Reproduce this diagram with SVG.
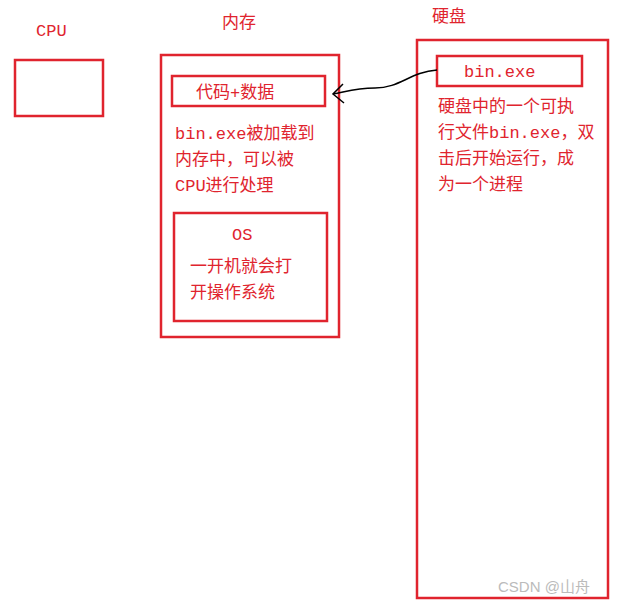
<svg xmlns="http://www.w3.org/2000/svg" width="621" height="606" viewBox="0 0 621 606">
<style>
.b{fill:none;stroke:#e0242e;stroke-width:2.5}
.t{fill:#e0242e;font-family:"Liberation Mono","Noto Sans CJK SC",monospace;font-size:17px}
</style>
<rect width="621" height="606" fill="#fff"/>
<g id="cpu"><rect class="b" x="15" y="60" width="88" height="56"/><text class="t" x="36" y="36">CPU</text></g>
<g id="mem"><rect class="b" x="161" y="55" width="178" height="282"/><text class="t" x="222" y="28">内存</text>
<text class="t" x="175" y="139">bin.exe被加载到</text><text class="t" x="175" y="165">内存中，可以被</text><text class="t" x="175" y="191">CPU进行处理</text></g>
<g id="code"><rect class="b" x="172" y="76" width="153" height="30"/><text class="t" x="196" y="98">代码+数据</text></g>
<g id="os"><rect class="b" x="174" y="213" width="153" height="108"/><text class="t" x="232" y="240">OS</text><text class="t" x="190" y="272">一开机就会打</text><text class="t" x="190" y="298">开操作系统</text></g>
<g id="disk"><rect class="b" x="417" y="40" width="191" height="558"/><text class="t" x="432" y="22">硬盘</text>
<text class="t" x="438" y="112">硬盘中的一个可执</text><text class="t" x="438" y="138">行文件bin.exe，双</text><text class="t" x="438" y="164">击后开始运行，成</text><text class="t" x="438" y="190">为一个进程</text></g>
<g id="bin"><rect class="b" x="437" y="56" width="145" height="30"/><text class="t" x="464" y="77">bin.exe</text></g>
<g id="conn"><path d="M437,70 C410,72 400,88 375,88 C355,88 345,92 333,94" fill="none" stroke="#000" stroke-width="1.5"/><path d="M343,84 L333,94 L344,103" fill="none" stroke="#000" stroke-width="1.5"/></g>
<text x="498" y="592" fill="#bbb" font-family="Liberation Sans,Noto Sans CJK SC,sans-serif" font-size="15">CSDN @山舟</text>
</svg>
